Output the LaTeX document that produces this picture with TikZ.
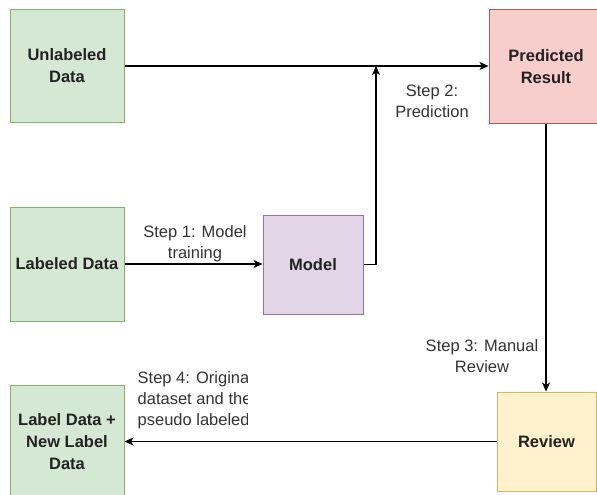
\documentclass[tikz,border=0pt]{standalone}
\usepackage{fontspec}
\setmainfont{Liberation Sans}
\usetikzlibrary{arrows.meta}

\definecolor{greenfill}{HTML}{D5E8D4}
\definecolor{greenline}{HTML}{82B366}
\definecolor{redfill}{HTML}{F8CECC}
\definecolor{redline}{HTML}{B85450}
\definecolor{purplefill}{HTML}{E1D5E7}
\definecolor{purpleline}{HTML}{9673A6}
\definecolor{yellowfill}{HTML}{FFF2CC}
\definecolor{yellowline}{HTML}{D6B656}
\definecolor{boxtext}{HTML}{222222}
\definecolor{labeltext}{HTML}{333333}

\tikzset{
  block/.style={rectangle, line width=1pt, align=center, inner sep=0pt,
    text=boxtext, font=\fontsize{16.5}{22}\selectfont\bfseries},
  greenbox/.style={block, fill=greenfill, draw=greenline},
  redbox/.style={block, fill=redfill, draw=redline},
  purplebox/.style={block, fill=purplefill, draw=purpleline},
  yellowbox/.style={block, fill=yellowfill, draw=yellowline},
  flow/.style={line width=1.3pt, draw=black,
    -{Stealth[length=9pt,width=8pt,inset=2.5pt]}},
  steplabel/.style={align=center, inner sep=0pt, text=labeltext,
    font=\fontsize{16.5}{21}\selectfont},
}

\begin{document}
\begin{tikzpicture}[x=1pt,y=-1pt]
  \clip (0,0) rectangle (597,495);

  % boxes
  \node[greenbox, minimum width=114pt, minimum height=112pt] (unlabeled) at (67,66) {Unlabeled\\Data};
  \node[redbox, minimum width=114pt, minimum height=113pt] (predicted) at (546,66.5) {Predicted\\Result};
  \node[greenbox, minimum width=114pt, minimum height=114pt] (labeled) at (67,264) {Labeled Data};
  \node[purplebox, minimum width=100pt, minimum height=99pt] (model) at (313,264.5) {Model};
  \node[yellowbox, minimum width=99pt, minimum height=99pt] (review) at (546.5,441.5) {Review};
  \node[greenbox, minimum width=114pt, minimum height=114pt] (merged) at (67,442) {Label Data +\\New Label\\Data};

  % junction where the model output meets the prediction line
  \coordinate (join) at (376,66);

  % connectors
  \draw[flow] (unlabeled.east) -- (predicted.west |- unlabeled.east);
  \draw[flow] (labeled.east) -- (model.west |- labeled.east);
  \draw[flow] (model.east) -| (join);
  \draw[flow] (predicted.south -| 546,0) -- (review.north -| 546,0);
  \draw[flow] (review.west) -- (merged.east |- review.west);

  % step labels
  \node[steplabel] (s1) at (195,244) {Step 1: Model\\training};
  \node[steplabel] (s2) at (432,101) {Step 2:\\Prediction};
  \node[steplabel] (s3) at (482,356) {Step 3: Manual\\Review};
  \begin{scope}
    \clip (130,360) rectangle (247.5,432);
    \node[steplabel, align=left, anchor=west] (s4) at (137.5,400)
      {Step 4: Original\\dataset and the\\pseudo labeled};
  \end{scope}
\end{tikzpicture}
\end{document}
